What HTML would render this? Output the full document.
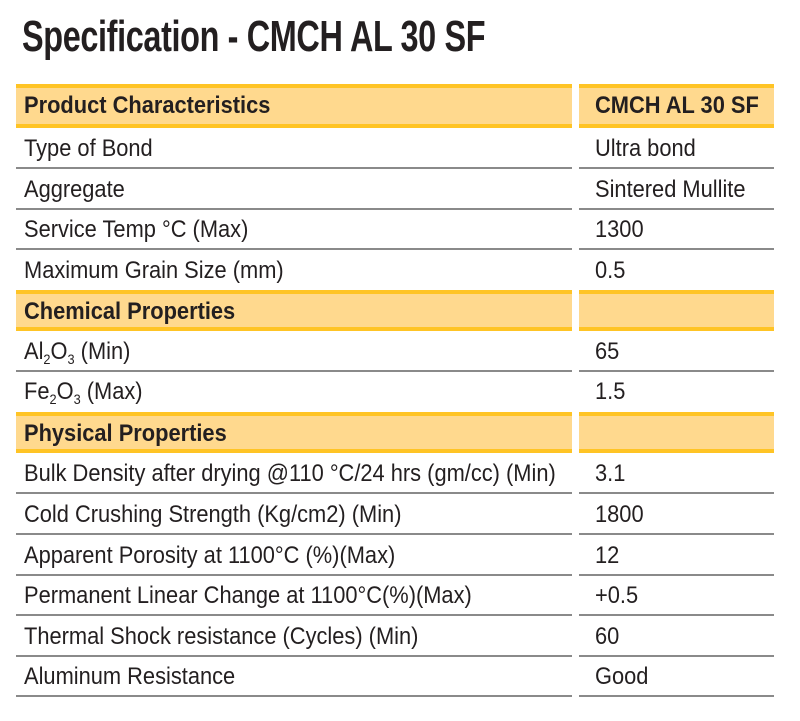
<!DOCTYPE html>
<html><head><meta charset="utf-8"><style>
body{margin:0;width:800px;height:721px;background:#fff;position:relative;overflow:hidden;font-family:"Liberation Sans",sans-serif;color:#231f20}
.t{position:absolute;left:22px;top:12px;font-size:44px;font-weight:bold;white-space:nowrap;transform:scaleX(0.737);transform-origin:left top;letter-spacing:-0.5px}
.r{position:absolute;height:41px;box-sizing:border-box;border-bottom:2px solid #8a8a8a;font-size:24px;line-height:41px;white-space:nowrap}
.r span{display:inline-block;transform:scaleX(0.91);transform-origin:left center}
.h{background:#ffd98e;border-top:4px solid #ffc425;border-bottom:4px solid #ffc425;font-weight:bold;line-height:35px}
.L{left:16px;width:556px;padding-left:8px}
.R{left:579px;width:195px;padding-left:16px}
sub{font-size:14px;vertical-align:-5px;line-height:0}
</style></head><body>
<div class="t">Specification - CMCH AL 30 SF</div>
<div class="r h L" style="top:84px;height:44px"><span>Product Characteristics</span></div>
<div class="r h R" style="top:84px;height:44px"><span>CMCH AL 30 SF</span></div>

<div class="r L" style="top:128px"><span>Type of Bond</span></div><div class="r R" style="top:128px"><span>Ultra bond</span></div>
<div class="r L" style="top:169px"><span>Aggregate</span></div><div class="r R" style="top:169px"><span>Sintered Mullite</span></div>
<div class="r L" style="top:209px"><span>Service Temp °C (Max)</span></div><div class="r R" style="top:209px"><span>1300</span></div>
<div class="r L" style="top:250px;border-bottom:none"><span>Maximum Grain Size (mm)</span></div><div class="r R" style="top:250px;border-bottom:none"><span>0.5</span></div>

<div class="r h L" style="top:290px"><span>Chemical Properties</span></div><div class="r h R" style="top:290px"></div>
<div class="r L" style="top:331px"><span>Al<sub>2</sub>O<sub>3</sub> (Min)</span></div><div class="r R" style="top:331px"><span>65</span></div>
<div class="r L" style="top:371px;border-bottom:none"><span>Fe<sub>2</sub>O<sub>3</sub> (Max)</span></div><div class="r R" style="top:371px;border-bottom:none"><span>1.5</span></div>

<div class="r h L" style="top:412px"><span>Physical Properties</span></div><div class="r h R" style="top:412px"></div>
<div class="r L" style="top:453px"><span>Bulk Density after drying @110 °C/24 hrs (gm/cc) (Min)</span></div><div class="r R" style="top:453px"><span>3.1</span></div>
<div class="r L" style="top:494px"><span>Cold Crushing Strength (Kg/cm2) (Min)</span></div><div class="r R" style="top:494px"><span>1800</span></div>
<div class="r L" style="top:535px"><span>Apparent Porosity at 1100°C (%)(Max)</span></div><div class="r R" style="top:535px"><span>12</span></div>
<div class="r L" style="top:575px"><span>Permanent Linear Change at 1100°C(%)(Max)</span></div><div class="r R" style="top:575px"><span>+0.5</span></div>
<div class="r L" style="top:616px"><span>Thermal Shock resistance (Cycles) (Min)</span></div><div class="r R" style="top:616px"><span>60</span></div>
<div class="r L" style="top:656px"><span>Aluminum Resistance</span></div><div class="r R" style="top:656px"><span>Good</span></div>
</body></html>
